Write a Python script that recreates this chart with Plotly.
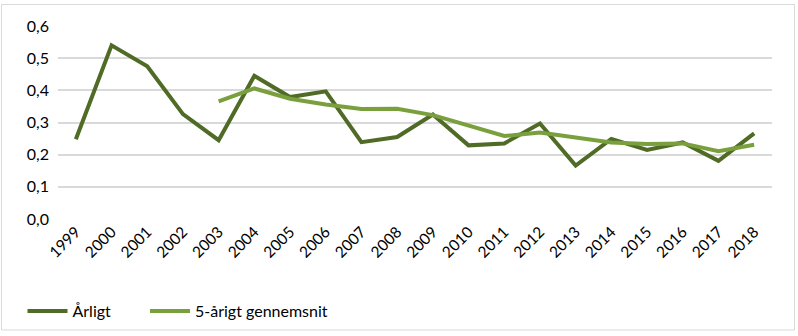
import plotly.graph_objects as go

years = [str(y) for y in range(1999, 2019)]
aarligt = [0.248, 0.540, 0.475, 0.326, 0.245, 0.445, 0.379, 0.397, 0.239, 0.255,
           0.325, 0.229, 0.235, 0.297, 0.166, 0.249, 0.215, 0.238, 0.181, 0.266]
gns_years = [str(y) for y in range(2003, 2019)]
gennemsnit = [0.366, 0.406, 0.374, 0.356, 0.342, 0.343, 0.323, 0.289, 0.258, 0.269,
              0.252, 0.238, 0.233, 0.235, 0.211, 0.231]
yticks = [0.0, 0.1, 0.2, 0.3, 0.4, 0.5, 0.6]
ytick_text = ["0,0", "0,1", "0,2", "0,3", "0,4", "0,5", "0,6"]

W, H = 798, 336
ML, MR, MT, MB = 58, 26, 26, 117
FONT = "Lato"

fig = go.Figure()
fig.add_trace(go.Scatter(x=years, y=aarligt, mode="lines", name="Årligt",
                         line=dict(color="#4F6B26", width=4), legend="legend"))
fig.add_trace(go.Scatter(x=gns_years, y=gennemsnit, mode="lines", name="5-årigt gennemsnit",
                         line=dict(color="#79A03D", width=4), legend="legend2"))

pw = W - ML - MR
ph = H - MT - MB
def px2x(p):
    return (p - ML) / pw
def py2y(p):
    return 1 - (p - MT) / ph

fig.add_shape(type="rect", xref="paper", yref="paper",
              x0=px2x(1.5), x1=px2x(794.5), y0=py2y(330), y1=py2y(4.5),
              line=dict(color="#D9D9D9", width=1), fillcolor="rgba(0,0,0,0)", layer="below")

leg_common = dict(orientation="h", xref="container", yref="container",
                  y=1 - 311 / H, xanchor="left", yanchor="middle",
                  font=dict(family=FONT, size=16, color="#000000"),
                  itemwidth=40, bgcolor="rgba(0,0,0,0)")

fig.update_layout(
    width=W, height=H,
    margin=dict(l=ML, r=MR, t=MT, b=MB),
    paper_bgcolor="white", plot_bgcolor="white",
    font=dict(family=FONT, size=15, color="#000000"),
    showlegend=True,
    legend=dict(x=22.5 / W, **leg_common),
    legend2=dict(x=145 / W, **leg_common),
    xaxis=dict(type="category", categoryorder="array", categoryarray=years,
               range=[-0.5, len(years) - 0.5], tickangle=-45,
               showgrid=False, zeroline=False, showline=False, ticks="",
               tickfont=dict(family=FONT, size=15.5, color="#000000")),
    yaxis=dict(range=[0, 0.6], tickvals=yticks, ticktext=ytick_text,
               showgrid=True, gridcolor="#D9D9D9", gridwidth=1.5,
               zeroline=False, showline=False, ticks="",
               ticklabelstandoff=8,
               tickfont=dict(family=FONT, size=16, color="#000000")),
)

fig.write_html("out.html")
